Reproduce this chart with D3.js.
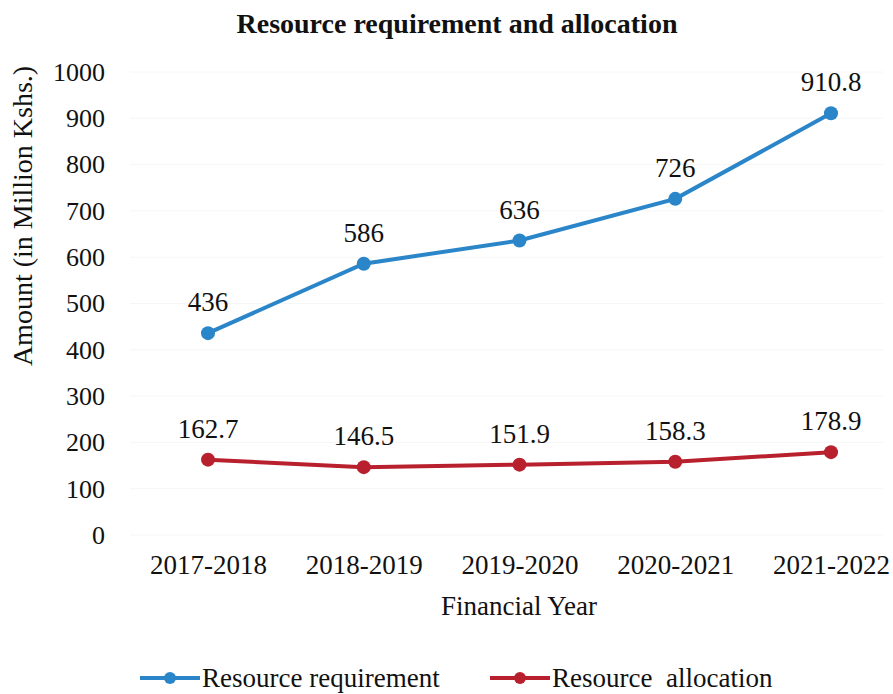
<!DOCTYPE html>
<html>
<head>
<meta charset="utf-8">
<script src="https://cdn.jsdelivr.net/npm/d3@7"></script>
<style>
  body { margin: 0; background: #fff; }
  text { font-family: "Liberation Serif", "Times New Roman", serif; fill: #111; }
</style>
</head>
<body>
<svg id="chart" width="893" height="694"></svg>
<script>
const years = ["2017-2018", "2018-2019", "2019-2020", "2020-2021", "2021-2022"];
const requirement = [436, 586, 636, 726, 910.8];
const allocation = [162.7, 146.5, 151.9, 158.3, 178.9];
const yTicks = [0, 100, 200, 300, 400, 500, 600, 700, 800, 900, 1000];

const svg = d3.select("#chart");
const margin = { left: 130, right: 10, top: 72, bottom: 159 };
const width = 893, height = 694;
const serif = "'Liberation Serif', 'Times New Roman', serif";

const x = d3.scalePoint()
  .domain(years)
  .range([208, 831]);

const y = d3.scaleLinear()
  .domain([0, 1000])
  .range([535, 72]);

// very faint gridlines (barely visible in the scan)
svg.append("g")
  .selectAll("line")
  .data(yTicks)
  .join("line")
  .attr("x1", margin.left)
  .attr("x2", width - margin.right)
  .attr("y1", d => y(d))
  .attr("y2", d => y(d))
  .attr("stroke", "#f6f6f6")
  .attr("stroke-width", 1);

// Y axis labels
svg.append("g")
  .attr("transform", "translate(105,0)")
  .call(d3.axisLeft(y).tickValues(yTicks).tickFormat(d3.format("d")).tickSize(0).tickPadding(0))
  .call(g => g.select(".domain").remove())
  .selectAll("text")
  .style("font-size", "26px")
  .style("font-family", serif)
  .attr("fill", "#111");

// X axis labels
svg.append("g")
  .attr("transform", "translate(0,555)")
  .call(d3.axisBottom(x).tickSize(0).tickPadding(0))
  .call(g => g.select(".domain").remove())
  .selectAll("text")
  .style("font-size", "27px")
  .style("font-family", serif)
  .attr("fill", "#111");

// title
svg.append("text")
  .attr("x", 457)
  .attr("y", 33)
  .attr("text-anchor", "middle")
  .style("font-size", "28px")
  .style("font-weight", "bold")
  .text("Resource requirement and allocation");

// axis titles
svg.append("text")
  .attr("x", 519)
  .attr("y", 615)
  .attr("text-anchor", "middle")
  .style("font-size", "27px")
  .text("Financial Year");

svg.append("text")
  .attr("transform", "translate(32,216) rotate(-90)")
  .attr("text-anchor", "middle")
  .style("font-size", "28px")
  .text("Amount (in Million Kshs.)");

const series = [
  { name: "Resource requirement", values: requirement, color: "#2a86c8" },
  { name: "Resource  allocation", values: allocation, color: "#b8202e" },
];

const line = d3.line()
  .x((d, i) => x(years[i]))
  .y(d => y(d));

series.forEach(s => {
  svg.append("path")
    .datum(s.values)
    .attr("fill", "none")
    .attr("stroke", s.color)
    .attr("stroke-width", 4)
    .attr("d", line);

  svg.append("g")
    .selectAll("circle")
    .data(s.values)
    .join("circle")
    .attr("cx", (d, i) => x(years[i]))
    .attr("cy", d => y(d))
    .attr("r", 7)
    .attr("fill", s.color);

  svg.append("g")
    .selectAll("text")
    .data(s.values)
    .join("text")
    .attr("x", (d, i) => x(years[i]))
    .attr("y", d => y(d) - 22)
    .attr("text-anchor", "middle")
    .style("font-size", "27px")
    .text(d => d);
});

// legend
const legendItems = [
  { x: 140, textX: 202 },
  { x: 490, textX: 552 },
];
legendItems.forEach((p, i) => {
  const s = series[i];
  const g = svg.append("g").attr("transform", `translate(${p.x},678)`);
  g.append("line")
    .attr("x1", 0).attr("x2", 60)
    .attr("y1", 0).attr("y2", 0)
    .attr("stroke", s.color)
    .attr("stroke-width", 4);
  g.append("circle")
    .attr("cx", 30).attr("cy", 0).attr("r", 6)
    .attr("fill", s.color);
  svg.append("text")
    .attr("x", p.textX)
    .attr("y", 687)
    .style("font-size", "27px")
    .style("white-space", "pre")
    .text(s.name);
});
</script>
</body>
</html>
